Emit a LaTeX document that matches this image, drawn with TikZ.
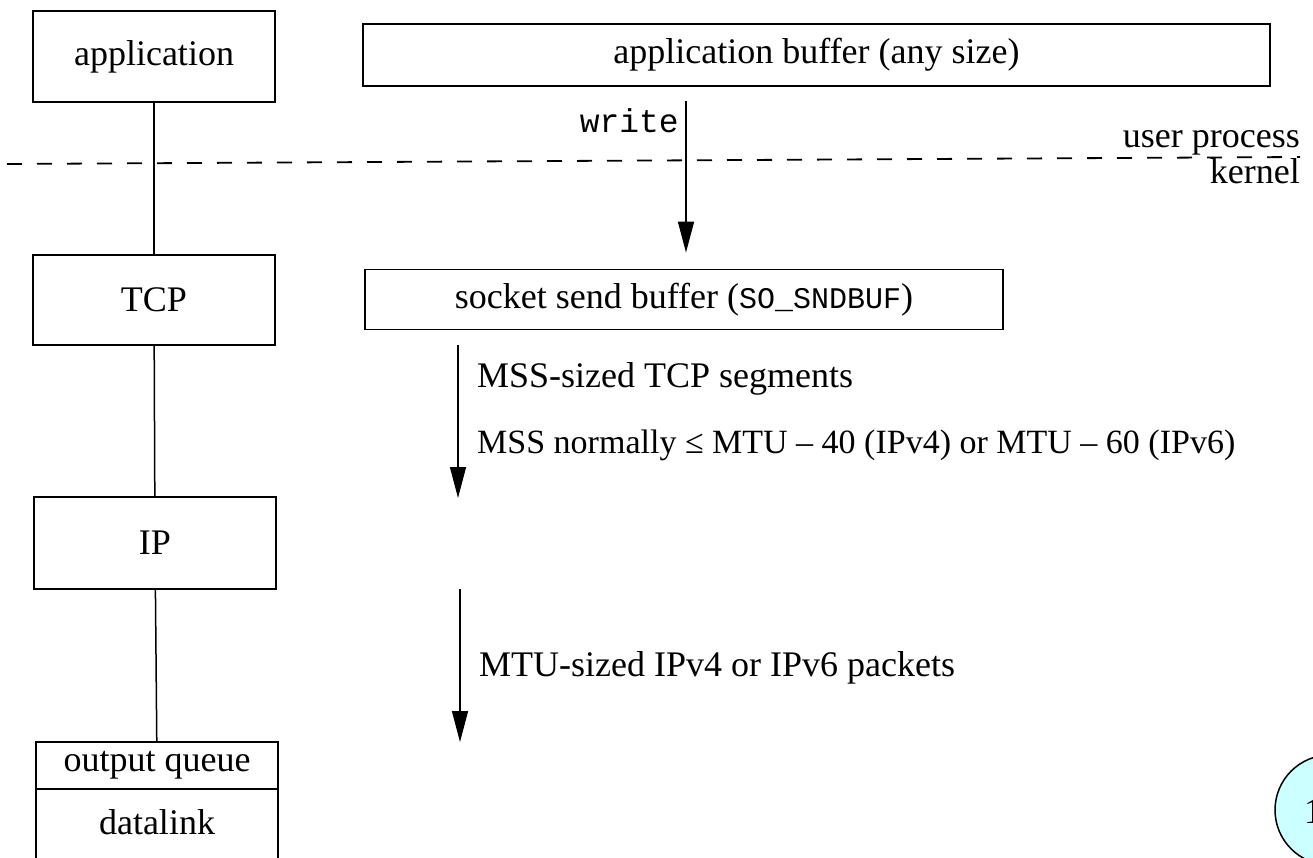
\documentclass[tikz,border=0pt]{standalone}
\usepackage{fontspec}
\setmainfont{Liberation Serif}
\setmonofont{Liberation Mono}
\usetikzlibrary{arrows.meta}
\definecolor{badgefill}{RGB}{204,255,255}
\tikzset{
  lay/.style={draw, line width=1.8pt, inner sep=0pt, font=\fontsize{36}{43}\selectfont},
  lbl/.style={inner sep=0pt, font=\fontsize{36}{43}\selectfont},
  monolbl/.style={inner sep=0pt, font=\ttfamily\fontsize{33}{40}\selectfont},
  flow/.style={line width=1.5pt, -{Triangle[length=31pt,width=16pt]}},
  link/.style={line width=1.5pt},
  sep/.style={line width=1.8pt, dash pattern=on 15pt off 15pt},
}
\begin{document}
\begin{tikzpicture}[x=1pt,y=-1pt]
\path[use as bounding box] (0,0) rectangle (1313,858);
\clip (0,0) rectangle (1313,858);
% left column
\node[lay, minimum width=242pt, minimum height=91pt] (app) at (154,56.5) {application};
\node[lay, minimum width=242pt, minimum height=90pt] (tcp) at (154,300) {TCP};
\node[lay, minimum width=242pt, minimum height=92pt] (ip) at (155,543) {IP};
\node[lay, minimum width=242pt, minimum height=47pt] (oq) at (157,765.5) {output queue};
\node[lbl, minimum width=242pt, minimum height=66pt] (dl) at (157,822) {datalink};
\draw[line width=1.8pt] (dl.north west) -- ++(0,100);
\draw[line width=1.8pt] (dl.north east) -- ++(0,100);
\draw[link] (app) -- (tcp);
\draw[link] (tcp) -- (ip);
\draw[link] (ip) -- (oq);
% right column
\node[lay, minimum width=907pt, minimum height=62pt] (abuf) at (816.5,55) {application buffer (any size)};
\node[lay, minimum width=638pt, minimum height=60pt] (sock) at (684,299.5) {socket send buffer ({\ttfamily\fontsize{30}{40}\selectfont SO\_SNDBUF})};
\coordinate (wx) at (686,0);
\draw[flow, shorten <=14pt, shorten >=16pt] (abuf.south -| wx) -- (sock.north -| wx);
\node[monolbl, anchor=east] (wlab) at (679,121) {write};
% user/kernel boundary
\coordinate (dL) at (7,164);
\coordinate (dR) at (1300,157);
\draw[sep] (dL) -- (dR);
\node[lbl, anchor=base east] (up) at (1300,148) {user process};
\node[lbl, anchor=base east] (kn) at (1300,184) {kernel};
% TCP -> IP
\coordinate (m0) at (458,0);
\coordinate (m1) at (458,498);
\draw[flow, shorten <=15pt] (sock.south -| m0) -- (m1);
\node[lbl, anchor=west] (mss1) at (477,379) {MSS-sized TCP segments};
\node[lbl, anchor=west, font=\fontsize{34}{41}\selectfont] (mss2) at (477,445) {MSS normally ≤ MTU – 40 (IPv4) or MTU – 60 (IPv6)};
% IP -> datalink
\coordinate (t0) at (460,589);
\coordinate (t1) at (460,742);
\draw[flow] (t0) -- (t1);
\node[lbl, anchor=west] (mtu) at (479,668) {MTU-sized IPv4 or IPv6 packets};
% badge
\node[draw, circle, fill=badgefill, line width=1.5pt, minimum size=110pt] (badge) at (1330,810) {};
\node[lbl, anchor=west] (bnum) at (1304,812) {1};
\end{tikzpicture}
\end{document}
